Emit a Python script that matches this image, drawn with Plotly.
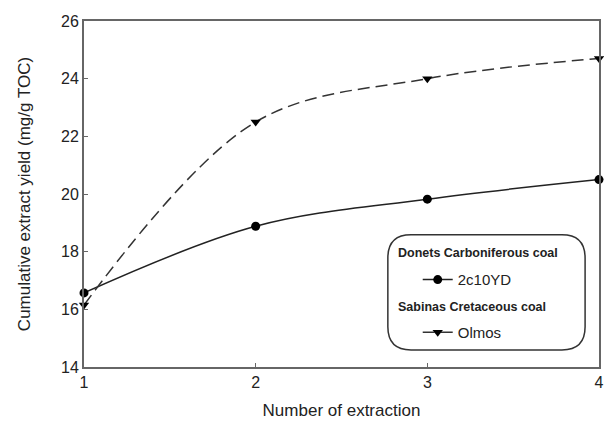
import plotly.graph_objects as go

# extraction number and cumulative yield (mg/g TOC)
extraction = [1, 2, 3, 4]
yield_2c10yd = [16.57, 18.88, 19.82, 20.5]
yield_olmos = [16.15, 22.5, 24.0, 24.7]

fig = go.Figure()

fig.add_trace(go.Scatter(
    x=extraction, y=yield_2c10yd,
    mode="lines+markers",
    name="2c10YD",
    line=dict(color="#222222", width=1.5, shape="spline", smoothing=1),
    marker=dict(symbol="circle", size=9, color="black"),
    legend="legend",
    cliponaxis=False,
))

fig.add_trace(go.Scatter(
    x=extraction, y=yield_olmos,
    mode="lines+markers",
    name="Olmos",
    line=dict(color="#333333", width=1.5, dash="12px,6px", shape="spline", smoothing=1),
    marker=dict(symbol="triangle-down", size=9, color="black"),
    legend="legend2",
    cliponaxis=False,
))

axis_style = dict(
    showline=True, linecolor="#666666", linewidth=2, mirror=True,
    ticks="inside", ticklen=4, tickcolor="#666666", tickwidth=1,
    showgrid=False, zeroline=False, automargin=False,
    tickfont=dict(size=16, color="#222222"),
)

fig.update_xaxes(range=[1, 4], tickvals=[1, 2, 3, 4],
                 title=dict(text="Number of extraction", font=dict(size=17, color="#222222"), standoff=14),
                 **axis_style)
fig.update_yaxes(range=[14, 26], tickvals=[14, 16, 18, 20, 22, 24, 26],
                 title=dict(text="Cumulative extract yield (mg/g TOC)", font=dict(size=17, color="#222222"), standoff=26),
                 **axis_style)

# rounded legend frame
x0, x1, y0, y1, r = 0.590, 0.973, 0.049, 0.382, 0.045
ry = r * 515 / 346
path = (f"M {x0 + r},{y0} L {x1 - r},{y0} Q {x1},{y0} {x1},{y0 + ry} "
        f"L {x1},{y1 - ry} Q {x1},{y1} {x1 - r},{y1} "
        f"L {x0 + r},{y1} Q {x0},{y1} {x0},{y1 - ry} "
        f"L {x0},{y0 + ry} Q {x0},{y0} {x0 + r},{y0} Z")
fig.add_shape(type="path", path=path, xref="paper", yref="paper",
              line=dict(color="#333333", width=1.5))

fig.add_annotation(text="<b>Donets Carboniferous coal</b>", xref="paper", yref="paper",
                   x=0.605, y=0.33, xanchor="left", yanchor="middle", showarrow=False,
                   font=dict(size=12.5, color="#222222"))
fig.add_annotation(text="<b>Sabinas Cretaceous coal</b>", xref="paper", yref="paper",
                   x=0.605, y=0.174, xanchor="left", yanchor="middle", showarrow=False,
                   font=dict(size=12.5, color="#222222"))

legend_style = dict(xanchor="left", yanchor="middle", bgcolor="rgba(0,0,0,0)",
                    borderwidth=0, font=dict(size=15, color="#222222"),
                    itemwidth=30)

fig.update_layout(
    width=604, height=423,
    margin=dict(l=84, r=5, t=21, b=56),
    paper_bgcolor="white", plot_bgcolor="white",
    font=dict(family="Liberation Sans, Arial, sans-serif"),
    showlegend=True,
    legend=dict(x=0.648, y=0.252, **legend_style),
    legend2=dict(x=0.648, y=0.10, **legend_style),
)

# drop the default page margin so the 604x423 figure fills the window
fig.write_html("out.html", config={"displayModeBar": False},
               post_script="document.body.style.margin='0';")
